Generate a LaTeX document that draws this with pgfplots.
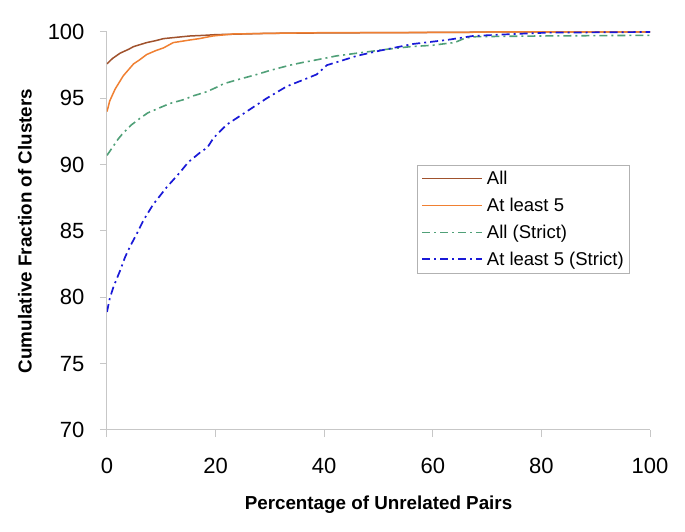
\documentclass[border=0pt]{standalone}
\usepackage{fontspec}
\setmainfont{Liberation Sans}
\usepackage{pgfplots}
\pgfplotsset{compat=1.18}
\definecolor{cbrown}{RGB}{160,82,45}
\definecolor{corange}{RGB}{240,128,50}
\definecolor{cgreen}{RGB}{80,160,120}
\definecolor{cblue}{RGB}{25,25,215}
\begin{document}
\begin{tikzpicture}
\begin{axis}[
  width=543pt, height=398pt, scale only axis,
  xmin=0, xmax=100, ymin=70, ymax=100,
  xtick={0,20,...,100}, ytick={70,75,...,100},
  axis x line=bottom, axis y line=left,
  axis line style={draw=black!22, line width=1pt, -},
  tick style={draw=black!22, line width=1pt},
  tick align=outside, major tick length=7pt,
  /pgf/number format/assume math mode=true,
  ticklabel style={font=\fontsize{22}{26}\selectfont},
  xticklabel style={anchor=center, yshift=-29pt},
  yticklabel style={anchor=east, xshift=-12pt},
  xlabel={\bfseries Percentage of Unrelated Pairs},
  ylabel={\bfseries Cumulative Fraction of Clusters},
  label style={font=\fontsize{18.8}{22}\selectfont},
  xlabel style={at={(axis description cs:0.5,0)}, anchor=center, yshift=-75pt},
  ylabel style={at={(axis description cs:-0.151,0.5)}, anchor=center},
  legend cell align=left,
  legend image code/.code={\draw[#1] (0pt,0pt) -- (60pt,0pt);},
  legend style={at={(rel axis cs:0.571,0.666)}, anchor=north west,
    draw=black!30, font=\fontsize{18.5}{22}\selectfont,
    row sep=8pt, inner xsep=4pt, inner ysep=4pt,
    /tikz/every odd column/.append style={column sep=2pt}},
]
\coordinate (sw) at (rel axis cs:0,0);
\coordinate (ne) at (rel axis cs:1,1);

\addplot[cbrown, line width=1.5pt] coordinates {
  (0,97.6) (1,98.0) (2.4,98.4) (4,98.7) (4.9,98.9) (7.3,99.2) (9,99.35)
  (10.4,99.5) (12.8,99.6) (15.3,99.7) (18,99.75) (20,99.8) (25,99.85)
  (30,99.9) (40,99.93) (50,99.95) (65,99.97) (70,100) (100,100)
};
\addlegendentry{All}

\addplot[draw=corange, line width=1.5pt] coordinates {
  (0,94.0) (0.5,94.8) (1.5,95.7) (3,96.7) (4.9,97.6) (6,97.9) (7.3,98.3)
  (9,98.6) (10.4,98.8) (12.2,99.2) (15.3,99.4) (17,99.5) (19.5,99.7)
  (23.2,99.85) (30,99.9) (40,99.95) (66,99.97) (70,100) (100,100)
};
\addlegendentry{At least 5}

\addplot[cgreen, line width=1.6pt, dash pattern=on 8pt off 4pt on 2pt off 4pt] coordinates {
  (0,90.7) (1,91.3) (2,91.9) (3,92.4) (4.5,93.0) (6.1,93.5) (7.5,93.9)
  (9.2,94.2) (11.5,94.6) (14.1,94.9) (16,95.2) (18.4,95.5) (20,95.8)
  (21.5,96.1) (24,96.4) (27.6,96.8) (30,97.1) (33.7,97.5) (36,97.7)
  (38.6,97.9) (42.3,98.2) (46,98.4) (51.6,98.7) (56,98.9) (60,99.0)
  (62.8,99.15) (64,99.2) (66,99.55) (68,99.65) (80,99.7) (100,99.75)
};
\addlegendentry{All (Strict)}

\addplot[cblue, line width=1.7pt, dash pattern=on 8pt off 4pt on 2pt off 4pt] coordinates {
  (0,78.9) (0.5,79.9) (1.2,80.8) (2.4,82.0) (3.3,83.0) (4.2,83.8) (5.5,84.8)
  (6.7,85.8) (8.5,87.0) (11.0,88.3) (13.4,89.4) (15,90.2) (17.1,90.9)
  (18.5,91.3) (19.6,92.0) (22,93.0) (25.7,94.0) (29.4,95.0) (33.1,95.9)
  (36.8,96.5) (38.6,96.8) (40.5,97.5) (42.9,97.8) (46,98.2) (50.3,98.6)
  (56.4,99.1) (62.6,99.4) (67.4,99.7) (75,99.85) (81,99.95) (100,100)
};
\addlegendentry{At least 5 (Strict)}
\end{axis}
\pgfresetboundingbox
\path[use as bounding box] ([xshift=-107pt,yshift=-102pt]sw) rectangle ([xshift=35pt,yshift=32pt]ne);
\end{tikzpicture}
\end{document}
